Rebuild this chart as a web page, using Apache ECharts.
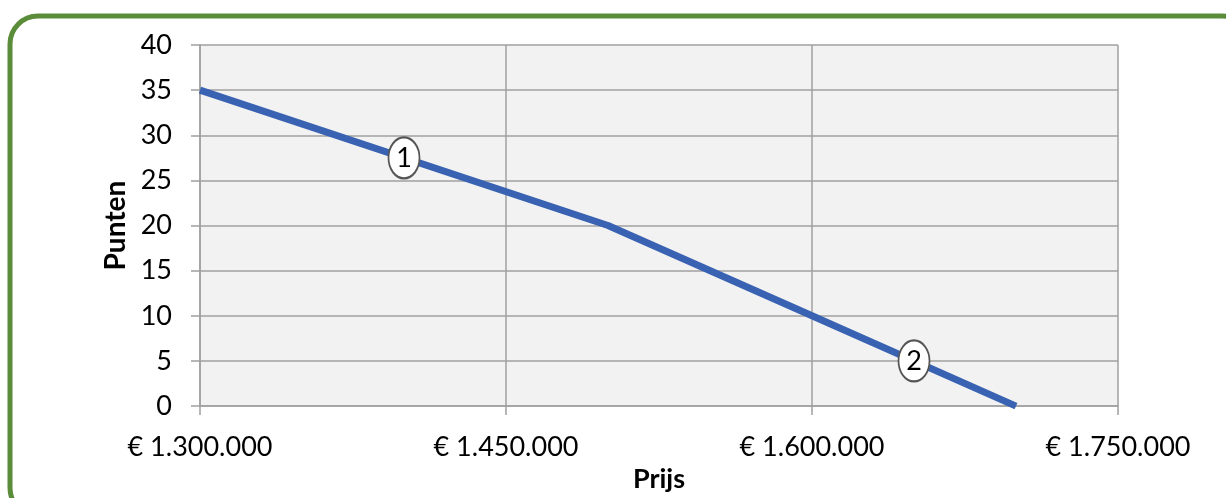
<!DOCTYPE html>
<html>
<head>
<meta charset="utf-8">
<script src="https://cdn.jsdelivr.net/npm/echarts@6/dist/echarts.min.js"></script>
<style>
html,body{margin:0;padding:0;background:#fff;}
#c{width:1226px;height:498px;}
</style>
</head>
<body>
<div id="c"></div>
<script>
// Data
var prices = [1300000, 1500000, 1600000, 1700000];
var points = [35, 20, 10, 0];
var markerPrices = [1400000, 1650000];
var markerPoints = [27.5, 5];
var markerTexts = ['1', '2'];
var xTicks = [1300000, 1450000, 1600000, 1750000];
var yMin = 0, yMax = 40, yStep = 5;
var xTitle = 'Prijs';
var yTitle = 'Punten';

var base = xTicks[0];
var step = xTicks[1] - xTicks[0];

function fmtEuro(v) {
  var s = String(Math.round(v));
  return '€ ' + s.replace(/\B(?=(\d{3})+(?!\d))/g, '.');
}

var lineData = prices.map(function (p, i) { return [p - base, points[i]]; });
var markerData = markerPrices.map(function (p, i) {
  return { name: markerTexts[i], value: [p - base, markerPoints[i]] };
});

var font = 'Lato, "Open Sans", sans-serif';
var chart = echarts.init(document.getElementById('c'), null, { renderer: 'canvas' });
chart.setOption({
  animation: false,
  backgroundColor: '#ffffff',
  graphic: [{
    type: 'rect',
    z: -10,
    shape: { x: 10, y: 16, width: 1240, height: 500, r: 28 },
    style: { fill: 'none', stroke: '#5b8c3a', lineWidth: 5 }
  }],
  grid: {
    left: 200, right: 108, top: 45, bottom: 90,
    show: true, backgroundColor: '#f2f2f2', borderWidth: 0
  },
  xAxis: {
    type: 'value',
    min: 0,
    max: xTicks[xTicks.length - 1] - base,
    interval: step,
    name: xTitle,
    nameLocation: 'middle',
    nameGap: 58,
    nameTextStyle: { fontFamily: font, fontSize: 27, fontWeight: 'bold', color: '#000' },
    axisLine: { show: true, lineStyle: { color: '#a0a0a0', width: 1.5 } },
    axisTick: { show: true, length: 9, lineStyle: { color: '#a0a0a0', width: 1.5 } },
    axisLabel: {
      margin: 28,
      fontFamily: font, fontSize: 27, color: '#000',
      formatter: function (v) { return fmtEuro(v + base); }
    },
    splitLine: { show: true, lineStyle: { color: '#a0a0a0', width: 1.5 } }
  },
  yAxis: {
    type: 'value',
    min: yMin, max: yMax, interval: yStep,
    name: yTitle,
    nameLocation: 'middle',
    nameGap: 70,
    nameTextStyle: { fontFamily: font, fontSize: 28, fontWeight: 'bold', color: '#000' },
    axisLine: { show: true, lineStyle: { color: '#a0a0a0', width: 1.5 } },
    axisTick: { show: true, length: 9, lineStyle: { color: '#a0a0a0', width: 1.5 } },
    axisLabel: { margin: 28, fontFamily: font, fontSize: 27, color: '#000' },
    splitLine: { show: true, lineStyle: { color: '#a0a0a0', width: 1.5 } }
  },
  series: [{
    type: 'line',
    data: lineData,
    showSymbol: false,
    symbol: 'none',
    lineStyle: { color: '#3a62b2', width: 7 },
    z: 2
  }, {
    type: 'scatter',
    data: markerData,
    symbol: 'circle',
    symbolSize: [31, 41],
    itemStyle: { color: '#ffffff', borderColor: '#555555', borderWidth: 2, opacity: 1 },
    label: {
      show: true, position: 'inside',
      formatter: function (p) { return p.name; },
      fontFamily: font, fontSize: 27, color: '#000'
    },
    z: 5
  }]
});
</script>
</body>
</html>
